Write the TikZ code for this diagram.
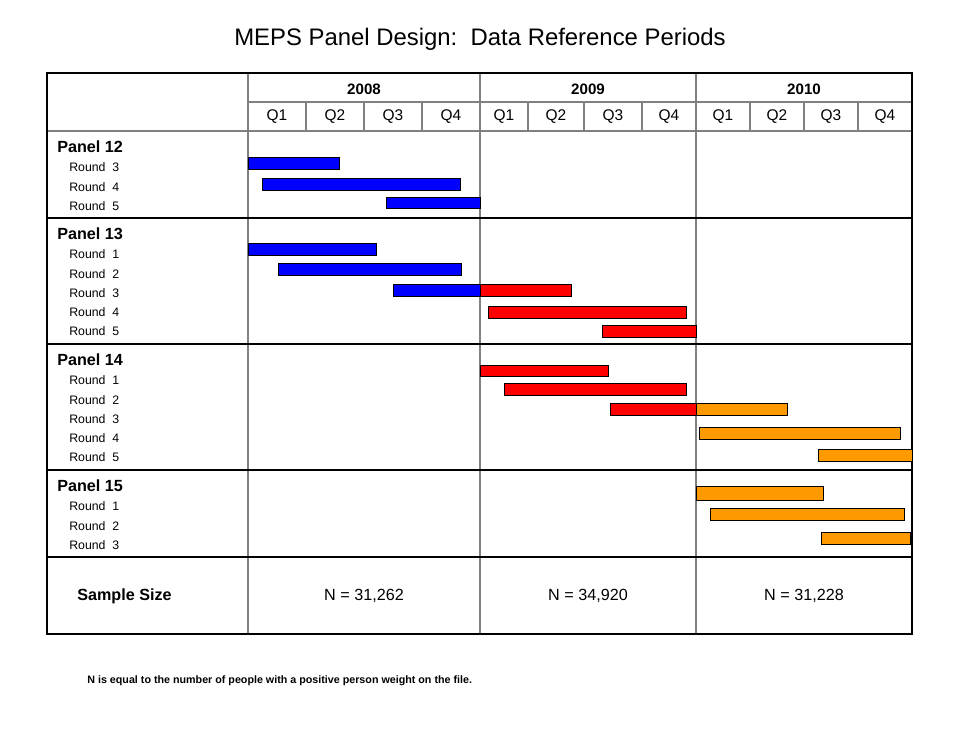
\documentclass[tikz,border=0pt]{standalone}
\usepackage{fontspec}
\setmainfont{Liberation Sans}
\usepackage{tikz}
\usetikzlibrary{positioning}
\definecolor{barorange}{RGB}{255,153,0}
\definecolor{gridgray}{RGB}{128,128,128}
\tikzstyle{bluebar} = [draw=black, fill=blue, line width=0.5pt]
\tikzstyle{redbar} = [draw=black, fill=red, line width=0.5pt]
\tikzstyle{orangebar} = [draw=black, fill=barorange, line width=0.5pt]
\tikzstyle{panel} = [anchor=west, inner sep=0pt, font=\fontsize{9.2}{10}\selectfont\bfseries]
\tikzstyle{round} = [anchor=west, inner sep=0pt, font=\fontsize{7.0}{9}\selectfont]
\tikzstyle{qlabel} = [inner sep=0pt, font=\fontsize{8.8}{10}\selectfont]
\tikzstyle{ylabel} = [inner sep=0pt, font=\fontsize{8.6}{10}\selectfont\bfseries]
\tikzstyle{nlabel} = [inner sep=0pt, font=\fontsize{9.2}{11}\selectfont]
\newcommand{\gbar}[5]{\draw [#1] (#2,#4) rectangle (#3,#5);}

\begin{document}
\begin{tikzpicture}[x=0.02cm, y=-0.02cm]
  \useasboundingbox (0,0) rectangle (960,729);
  % title
  \node [font=\fontsize{13.6}{16}\selectfont] (title) at (480,39)
  {MEPS Panel Design:\ \ Data Reference Periods};
  % grid
  \foreach \x in {306,364,422,528,584,642,750,804,858}
    \draw [gridgray, line width=0.6pt] (\x,102) -- (\x,131);
  \foreach \x in {248,480,696}
    \draw [gridgray, line width=0.8pt] (\x,73) -- (\x,634);
  \draw [gridgray, line width=0.8pt] (248,102) -- (912,102);
  \draw [gridgray, line width=0.8pt] (47,131) -- (912,131);
  \foreach \y in {218,344,470,557}
    \draw [black, line width=0.6pt] (47,\y) -- (912,\y);
  \draw [black, line width=1.6pt] (47,73) rectangle (912,634);
  % years and quarters
  \node [ylabel] (y2008) at (364,89) {2008};
  \node [ylabel] (y2009) at (588,89) {2009};
  \node [ylabel] (y2010) at (804,89) {2010};
  \foreach \x/\q in {277/Q1,335/Q2,393/Q3,451/Q4,504/Q1,556/Q2,613/Q3,669/Q4,723/Q1,777/Q2,831/Q3,885/Q4}
    \node [qlabel] at (\x,117) {\q};
  % row labels
  \node [panel] (p12) at (57,147) {Panel 12};
  \node [round] (p12r3) at (69,167) {Round\ \ 3};
  \node [round] (p12r4) at (69,187) {Round\ \ 4};
  \node [round] (p12r5) at (69,206) {Round\ \ 5};
  \node [panel] (p13) at (57,234) {Panel 13};
  \foreach \r/\y in {1/254,2/274,3/293,4/312,5/331}
    \node [round] at (69,\y) {Round\ \ \r};
  \node [panel] (p14) at (57,360) {Panel 14};
  \foreach \r/\y in {1/380,2/400,3/419,4/438,5/457}
    \node [round] at (69,\y) {Round\ \ \r};
  \node [panel] (p15) at (57,486) {Panel 15};
  \foreach \r/\y in {1/506,2/526,3/545}
    \node [round] at (69,\y) {Round\ \ \r};
  % bars
  \gbar{bluebar}{248}{339}{157}{169}
  \gbar{bluebar}{262}{460}{178}{190}
  \gbar{bluebar}{386}{480}{197}{208}
  \gbar{bluebar}{248}{376}{243}{255}
  \gbar{bluebar}{278}{461}{263}{275}
  \gbar{bluebar}{393}{480}{284}{296}
  \gbar{redbar}{480}{571}{284}{296}
  \gbar{redbar}{488}{686}{306}{318}
  \gbar{redbar}{602}{696}{325}{337}
  \gbar{redbar}{480}{608}{365}{376}
  \gbar{redbar}{504}{686}{383}{395}
  \gbar{redbar}{610}{696}{403}{415}
  \gbar{orangebar}{696}{787}{403}{415}
  \gbar{orangebar}{699}{900}{427}{439}
  \gbar{orangebar}{818}{912}{449}{461}
  \gbar{orangebar}{696}{823}{486}{500}
  \gbar{orangebar}{710}{904}{508}{520}
  \gbar{orangebar}{821}{910}{532}{544}
  % sample size
  \node [panel] (ss) at (77,596) {Sample Size};
  \node [nlabel] (n2008) at (364,596) {N = 31,262};
  \node [nlabel] (n2009) at (588,596) {N = 34,920};
  \node [nlabel] (n2010) at (804,596) {N = 31,228};
  \node [anchor=west, inner sep=0pt, font=\fontsize{6.1}{7}\selectfont\bfseries] (note) at (87,681)
  {N is equal to the number of people with a positive person weight on the file.};
\end{tikzpicture}
\end{document}
